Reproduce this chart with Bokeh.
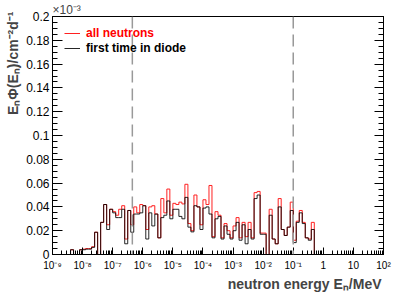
import numpy as np
from bokeh.plotting import figure
from bokeh.models import (FixedTicker, LinearAxis, Legend, LegendItem, Span, Title,
                          Range1d, CustomJSTickFormatter, CustomLabelingPolicy)
from bokeh.embed import file_html
from bokeh.resources import INLINE

# ---------------- data ----------------
# histogram: 10 bins per decade from 1e-9 MeV to 1e2 MeV
log_min = -9
log_max = 2
bins_per_decade = 10
first_bin = 6          # index of the first listed bin

all_neutrons = [0.004, 0, 0, 0.004, 0.0045, 0.005, 0.005, 0.0065, 0.0187, 0,
                0.027, 0.042, 0.025, 0.038, 0.036, 0.033, 0.038, 0.041, 0.013, 0.037,
                0.025, 0.040, 0.035, 0.042, 0.041, 0.021, 0.040, 0.041, 0.034, 0.014,
                0.047, 0.035, 0.055, 0.033, 0.043, 0.042, 0.044, 0.0425, 0.059, 0.026,
                0.020, 0.050, 0.040, 0.025, 0.046, 0.042, 0.058, 0.015, 0.036, 0.033,
                0.014, 0.026, 0.020, 0.014, 0.024, 0.031, 0.014, 0.027, 0.015, 0.027,
                0.014, 0.052, 0.053, 0.018, 0.018, 0, 0.038, 0.013, 0.009, 0.047,
                0.021, 0.016, 0.023, 0.044, 0.012, 0.028, 0.037, 0.027, 0.014, 0.013,
                0.027]
first_in_diode = [0.004, 0, 0, 0.004, 0.004, 0.0045, 0.0045, 0.006, 0.0187, 0,
                  0.027, 0.042, 0.021, 0.038, 0.035, 0.031, 0.031, 0.038, 0.009, 0.037,
                  0.0187, 0.034, 0.034, 0.035, 0.041, 0.013, 0.035, 0.024, 0.034, 0.014,
                  0.031, 0.033, 0.045, 0.030, 0.038, 0.038, 0.032, 0.030, 0.048, 0.023,
                  0.019, 0.041, 0.040, 0.021, 0.039, 0.040, 0.034, 0.014, 0.030, 0.032,
                  0.013, 0.024, 0.017, 0.013, 0.020, 0.027, 0.012, 0.025, 0.009, 0.021,
                  0.013, 0.047, 0.050, 0.017, 0.017, 0, 0.033, 0.013, 0.009, 0.040,
                  0.021, 0.016, 0.023, 0.037, 0.010, 0.027, 0.035, 0.026, 0.014, 0.012,
                  0.021]

thresholds = [4.5e-7, 0.1]   # dashed vertical lines (MeV)

x_ticks = [1e-9, 1e-8, 1e-7, 1e-6, 1e-5, 1e-4, 1e-3, 1e-2, 1e-1, 1.0, 10.0, 100.0]
x_tick_labels = ["10⁻⁹", "10⁻⁸", "10⁻⁷", "10⁻⁶", "10⁻⁵", "10⁻⁴", "10⁻³",
                 "10⁻²", "10⁻¹", "1", "10", "10²"]
y_ticks = [0, 0.02, 0.04, 0.06, 0.08, 0.1, 0.12, 0.14, 0.16, 0.18, 0.2]
y_tick_labels = ["0", "0.02", "0.04", "0.06", "0.08", "0.1", "0.12", "0.14",
                 "0.16", "0.18", "0.2"]
y_minor_step = 0.005

x_title = "neutron energy Eₙ/MeV"
y_title = "EₙΦ(Eₙ)/cm⁻²d⁻¹"
y_exponent = "×10⁻³"
legend_labels = ["all neutrons", "first time in diode"]

# ---------------- geometry helpers ----------------
n = len(all_neutrons)
edges = 10.0 ** (log_min + (first_bin + np.arange(n + 1)) / bins_per_decade)


def step_path(vals):
    xs = np.repeat(edges, 2)
    ys = np.concatenate([[0.0], np.repeat(np.asarray(vals, float), 2), [0.0]])
    return xs, ys


FONT = "Liberation Sans"

p = figure(width=415, height=298, x_axis_type="log",
           x_range=Range1d(10.0 ** log_min, 10.0 ** log_max),
           y_range=Range1d(0, 0.2),
           output_backend="svg", toolbar_location=None, title=None,
           min_border_left=51, min_border_right=32, min_border_top=16,
           min_border_bottom=44)
p.grid.visible = False
p.outline_line_color = "black"
p.outline_line_width = 1
p.background_fill_color = "white"
p.border_fill_color = "white"

# x axis
minor_x = [m * 10.0 ** e for e in range(log_min, log_max) for m in range(2, 10)]
xa = p.xaxis[0]
xa.ticker = FixedTicker(ticks=x_ticks, minor_ticks=minor_x)
xa.formatter = CustomJSTickFormatter(args=dict(labels=x_tick_labels, lo=log_min),
                                     code="return labels[Math.round(Math.log10(tick)) - lo];")
xa.major_tick_in = 7
xa.major_tick_out = 0
xa.minor_tick_in = 4
xa.minor_tick_out = 0
xa.major_label_standoff = 5
xa.major_label_text_font = FONT
xa.major_label_text_font_size = "10px"
xa.major_label_text_color = "black"
xa.axis_line_color = "black"

# y axis
n_minor = int(round(0.2 / y_minor_step))
minor_y = [round(i * y_minor_step, 4) for i in range(n_minor + 1)]
ya = p.yaxis[0]
ya.ticker = FixedTicker(ticks=y_ticks, minor_ticks=minor_y)
ya.formatter = CustomJSTickFormatter(args=dict(labels=y_tick_labels, step=0.02),
                                     code="return labels[Math.round(tick / step)];")
ya.major_tick_in = 10
ya.major_tick_out = 0
ya.minor_tick_in = 5
ya.minor_tick_out = 0
ya.major_label_standoff = 3
ya.major_label_text_font = FONT
ya.major_label_text_font_size = "12px"
ya.major_label_text_color = "black"

# right-hand tick marks only (no labels drawn)
ra = LinearAxis(ticker=FixedTicker(ticks=y_ticks, minor_ticks=minor_y),
                major_tick_in=9, major_tick_out=0, minor_tick_in=5, minor_tick_out=0,
                major_label_standoff=0,
                major_label_policy=CustomLabelingPolicy(code="return [];"))
p.add_layout(ra, "right")

# dashed thresholds
for t in thresholds:
    p.add_layout(Span(location=t, dimension="height", line_color="#999999",
                      line_width=1.5, line_dash="12 6"))

# histograms
xs, ys = step_path(all_neutrons)
r_all = p.line(xs, ys, line_color="#ff2020", line_width=1)
xs, ys = step_path(first_in_diode)
r_first = p.line(xs, ys, line_color="black", line_width=1, line_alpha=0.85)

# legends (one per entry to colour the labels)
for label, rend, col, ybot in [(legend_labels[0], r_all, "red", 214),
                               (legend_labels[1], r_first, "black", 199)]:
    lg = Legend(items=[LegendItem(label=label, renderers=[rend])], location=(12, ybot),
                glyph_width=16, glyph_height=12, label_height=12, label_standoff=6,
                padding=0, margin=0, border_line_color=None, background_fill_alpha=0,
                label_text_font=FONT, label_text_font_size="12px",
                label_text_font_style="bold", label_text_color=col)
    p.add_layout(lg)

# axis titles as side-panel titles
p.add_layout(Title(text=y_title, align="right", text_font=FONT, text_font_size="14px",
                   text_font_style="bold", standoff=5, offset=-5), "left")
p.add_layout(Title(text=x_title, align="right", text_font=FONT, text_font_size="14px",
                   text_font_style="bold", standoff=0, offset=2), "below")
p.add_layout(Title(text=y_exponent, align="left", text_font=FONT, text_font_size="12px",
                   text_font_style="normal", standoff=0, offset=0), "above")

open("out.html", "w").write(file_html(p, INLINE))
